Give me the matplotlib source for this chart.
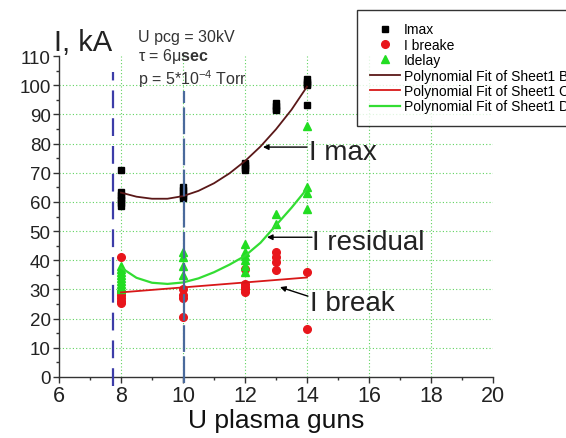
import matplotlib.pyplot as plt
from matplotlib.ticker import MultipleLocator

plt.rcParams['font.family'] = ['Liberation Sans', 'DejaVu Sans']
plt.rcParams['mathtext.fontset'] = 'custom'
plt.rcParams['mathtext.rm'] = 'Liberation Sans'
plt.rcParams['mathtext.bf'] = 'Liberation Sans:bold'
plt.rcParams['mathtext.it'] = 'Liberation Sans:italic'

# measured points (U plasma guns, kA)
imax_u = [8, 8, 8, 8, 8, 8, 8, 10, 10, 10, 10, 10, 12, 12, 12, 12, 13, 13, 13, 13, 14, 14, 14, 14, 14]
imax_i = [71, 63.5, 62.5, 61.5, 60.5, 59.5, 58.5, 65, 64, 63, 62, 61.5, 73.5, 72.5, 71.5, 71,
          94, 93, 92, 91.5, 102, 101, 100.5, 100, 93.2]

ibreak_u = [8, 8, 8, 8, 8, 8, 10, 10, 10, 10, 12, 12, 12, 12, 12, 13, 13, 13, 13, 14, 14]
ibreak_i = [41, 29, 28, 27, 26, 25.5, 30, 28, 27, 20.5, 37, 32, 31, 30, 29, 43, 41, 39.5, 36.5, 36, 16.5]

idelay_u = [8, 8, 8, 8, 8, 8, 8, 8, 8, 10, 10, 10, 10, 12, 12, 12, 12, 12, 12, 13, 13, 14, 14, 14, 14]
idelay_i = [38, 37, 36, 35, 34, 33, 32, 31, 30, 43, 41, 38, 35, 45.5, 43, 41.5, 40, 38, 36,
            56, 52.5, 86, 65, 63, 57.5]

# polynomial fit curves
fit_u = [8, 8.5, 9, 9.5, 10, 10.5, 11, 11.5, 12, 12.5, 13, 13.5, 14]
fit_imax = [63.2, 61.8, 61.1, 61.1, 62.0, 63.8, 66.4, 69.8, 74.0, 79.0, 84.9, 91.6, 99.5]
fit_idelay = [37.5, 34.0, 32.3, 31.9, 32.4, 33.8, 35.9, 38.5, 41.5, 46.0, 52.0, 58.0, 64.5]
fit_break_u = [8, 14]
fit_ibreak = [29.0, 34.1]

# dashed guide lines
guide_u = [7.74, 10.03]
guide_top = [104.5, 98]

x_ticks = [6, 8, 10, 12, 14, 16, 18, 20]
y_ticks = [0, 10, 20, 30, 40, 50, 60, 70, 80, 90, 100, 110]

fig = plt.figure(figsize=(5.66, 4.39), dpi=100)
ax = fig.add_axes([0.1042, 0.139, 0.7668, 0.731])

# grid only at inner ticks
for x in x_ticks[1:-1]:
    ax.axvline(x, color='#5fd35f', lw=0.8, ls=(0, (1, 2)), zorder=0)
for y in y_ticks[1:-1]:
    ax.axhline(y, color='#5fd35f', lw=0.8, ls=(0, (1, 2)), zorder=0)

h1, = ax.plot(imax_u, imax_i, 's', color='black', ms=5, ls='none', label='Imax', zorder=3)
h2, = ax.plot(ibreak_u, ibreak_i, 'o', color='#e8161c', ms=5.5, ls='none', label='I breake', zorder=3)
h3, = ax.plot(idelay_u, idelay_i, '^', color='#22dd22', ms=6, ls='none', label='Idelay', zorder=3)

h4, = ax.plot(fit_u, fit_imax, '-', color='#5a1818', lw=1.3, label='Polynomial Fit of Sheet1 B', zorder=4)
h5, = ax.plot(fit_break_u, fit_ibreak, '-', color='#d81818', lw=1.3, label='Polynomial Fit of Sheet1 C', zorder=4)
h6, = ax.plot(fit_u, fit_idelay, '-', color='#33dd33', lw=1.6, label='Polynomial Fit of Sheet1 D', zorder=4)

ax.plot([guide_u[0]] * 2, [-3, guide_top[0]], color='#3c3ca8', lw=1.6, dashes=(8, 4.5),
        clip_on=False, zorder=5)
ax.plot([guide_u[1]] * 2, [-2, guide_top[1]], color='#4a6a9c', lw=1.6, dashes=(12, 2),
        clip_on=False, zorder=5)

ax.set_xlim(6, 20)
ax.set_ylim(0, 110)
ax.set_xticks(x_ticks)
ax.set_yticks(y_ticks)
ax.xaxis.set_minor_locator(MultipleLocator(1))
ax.yaxis.set_minor_locator(MultipleLocator(5))
ax.spines['top'].set_visible(False)
ax.spines['right'].set_visible(False)
for s in ['left', 'bottom']:
    ax.spines[s].set_color('#333333')
    ax.spines[s].set_linewidth(1.0)
ax.tick_params(which='major', direction='out', length=4, width=1, color='#333333', pad=2)
ax.tick_params(which='minor', direction='out', length=2.5, width=1, color='#333333')
ax.tick_params(axis='x', labelsize=15.5, colors='#222222')
ax.tick_params(axis='y', labelsize=13.5, colors='#222222')
ax.tick_params(axis='both', which='major', labelcolor='#222222', color='#333333')

ax.set_xlabel('U plasma guns', fontsize=19, color='#111111', labelpad=1)

ax.text(5.84, 112, 'I, kA', fontsize=21, color='#222222', va='baseline', ha='left')
ax.text(8.55, 115, 'U pcg = 30kV', fontsize=11.5, color='#333333', va='baseline')
ax.text(8.55, 108.6, r'τ = 6μ$\mathbf{sec}$', fontsize=11.5, color='#333333', va='baseline')
ax.text(8.55, 100.3, r'p = 5*10$^{-4}$ Torr', fontsize=11.5, color='#333333', va='baseline')

# labels with arrows
arrow = dict(arrowstyle='-|>', color='black', lw=1, mutation_scale=8, shrinkA=0, shrinkB=0)
ax.annotate('', xy=(12.58, 78.8), xytext=(14.0, 78.8), arrowprops=arrow)
ax.text(14.08, 77.0, 'I max', fontsize=20, color='#222222', va='center')
ax.annotate('', xy=(12.71, 47.9), xytext=(14.16, 47.9), arrowprops=arrow)
ax.text(14.16, 46.3, 'I residual', fontsize=20, color='#222222', va='center')
ax.annotate('', xy=(13.13, 30.8), xytext=(14.03, 27.7), arrowprops=arrow)
ax.text(14.1, 25.5, 'I break', fontsize=20, color='#222222', va='center')

leg = fig.legend(handles=[h1, h2, h3, h4, h5, h6], loc='upper left',
                 bbox_to_anchor=(357 / 566, 1 - 11 / 439), borderaxespad=0,
                 fontsize=10, frameon=True, fancybox=False, edgecolor='black',
                 handlelength=2.2, handletextpad=0.25, labelspacing=0.1,
                 borderpad=0.9, numpoints=1)
leg.get_frame().set_linewidth(1.0)

fig.savefig('out.png', dpi=100)
